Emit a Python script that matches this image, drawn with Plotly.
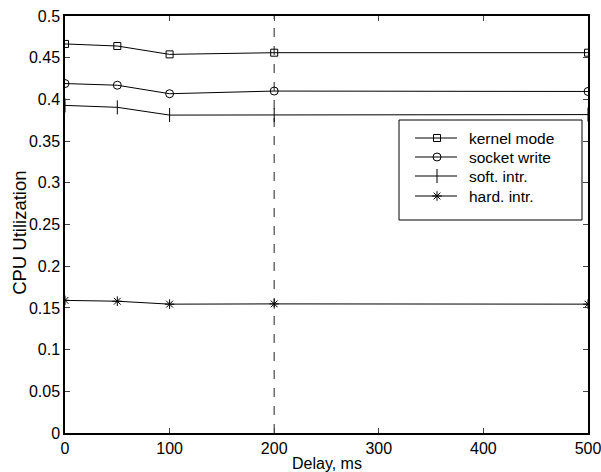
import plotly.graph_objects as go

delay = [0, 50, 100, 200, 500]
kernel_mode = [0.4665, 0.4640, 0.4540, 0.4560, 0.4560]
socket_write = [0.4190, 0.4170, 0.4068, 0.4100, 0.4095]
soft_intr = [0.3928, 0.3905, 0.3812, 0.3812, 0.3818]
hard_intr = [0.1590, 0.1580, 0.1545, 0.1548, 0.1545]

series_names = ["kernel mode", "socket write", "soft. intr.", "hard. intr."]
series_values = [kernel_mode, socket_write, soft_intr, hard_intr]
series_symbols = ["square-open", "circle-open", "line-ns-open", "asterisk-open"]
series_sizes = [7, 8, 10, 8]

x_ticks = [0, 100, 200, 300, 400, 500]
y_ticks = [0, 0.05, 0.1, 0.15, 0.2, 0.25, 0.3, 0.35, 0.4, 0.45, 0.5]
y_ticktext = ["0", "0.05", "0.1", "0.15", "0.2", "0.25", "0.3", "0.35", "0.4", "0.45", "0.5"]
marker_x = 200

# plot area in pixels (for the hand-drawn legend overlay)
PW, PH = 523, 417

fig = go.Figure()
for name, vals, sym, sz in zip(series_names, series_values, series_symbols, series_sizes):
    fig.add_trace(go.Scatter(
        x=delay, y=vals, name=name, mode="lines+markers", showlegend=False,
        line=dict(color="black", width=1),
        marker=dict(symbol=sym, size=sz, color="black", line=dict(color="black", width=1)),
    ))

fig.add_shape(type="line", xref="x", yref="y", x0=marker_x, x1=marker_x, y0=0, y1=0.5,
              line=dict(color="#555555", width=1.3, dash="dash"), layer="below")

# legend box (overlay axes in pixel units)
bx0, bx1, by0, by1 = 334, 517, 213, 313
fig.add_trace(go.Scatter(
    x=[bx0, bx1, bx1, bx0, bx0], y=[by0, by0, by1, by1, by0],
    xaxis="x2", yaxis="y2", mode="lines", fill="toself", fillcolor="white",
    line=dict(color="black", width=1), showlegend=False, hoverinfo="skip"))
row_y = [295, 276, 257, 237]
for name, sym, sz, ry in zip(series_names, series_symbols, series_sizes, row_y):
    fig.add_trace(go.Scatter(
        x=[350, 392], y=[ry, ry], xaxis="x2", yaxis="y2", mode="lines",
        line=dict(color="black", width=1), showlegend=False, hoverinfo="skip"))
    fig.add_trace(go.Scatter(
        x=[372], y=[ry], xaxis="x2", yaxis="y2", mode="markers",
        marker=dict(symbol=sym, size=sz, color="black", line=dict(color="black", width=1)),
        showlegend=False, hoverinfo="skip"))
    fig.add_annotation(x=402, y=ry, xref="x2", yref="y2", text=name, showarrow=False,
                       xanchor="left", yanchor="middle", font=dict(size=15.5))

fig.add_annotation(x=0, y=0.48, xref="paper", yref="paper", text="CPU Utilization",
                   textangle=-90, showarrow=False, xanchor="center", yanchor="middle",
                   xshift=-45, font=dict(size=18.5))
fig.add_annotation(x=0.5, y=0, xref="paper", yref="paper", text="Delay, ms",
                   showarrow=False, xanchor="center", yanchor="middle",
                   yshift=-30, font=dict(size=16))

fig.update_layout(
    width=601, height=472,
    margin=dict(l=65, r=13, t=16, b=39),
    paper_bgcolor="white", plot_bgcolor="white",
    font=dict(family="Liberation Sans, Arial, sans-serif", size=16, color="black"),
    showlegend=False,
    xaxis=dict(range=[0, 500], tickvals=x_ticks, ticks="inside", ticklen=5,
               showline=True, linecolor="black", linewidth=1.5, mirror="ticks",
               showgrid=False, zeroline=False, automargin=False,
               ticklabeloverflow="allow", tickfont=dict(size=16)),
    yaxis=dict(range=[0, 0.5], tickvals=y_ticks, ticktext=y_ticktext, ticks="inside", ticklen=5,
               showline=True, linecolor="black", linewidth=1.5, mirror="ticks",
               showgrid=False, zeroline=False, automargin=False,
               ticklabeloverflow="allow", tickfont=dict(size=16)),
    xaxis2=dict(overlaying="x", range=[0, PW], visible=False, fixedrange=True),
    yaxis2=dict(overlaying="y", range=[0, PH], visible=False, fixedrange=True),
)

fig.write_html("out.html")
